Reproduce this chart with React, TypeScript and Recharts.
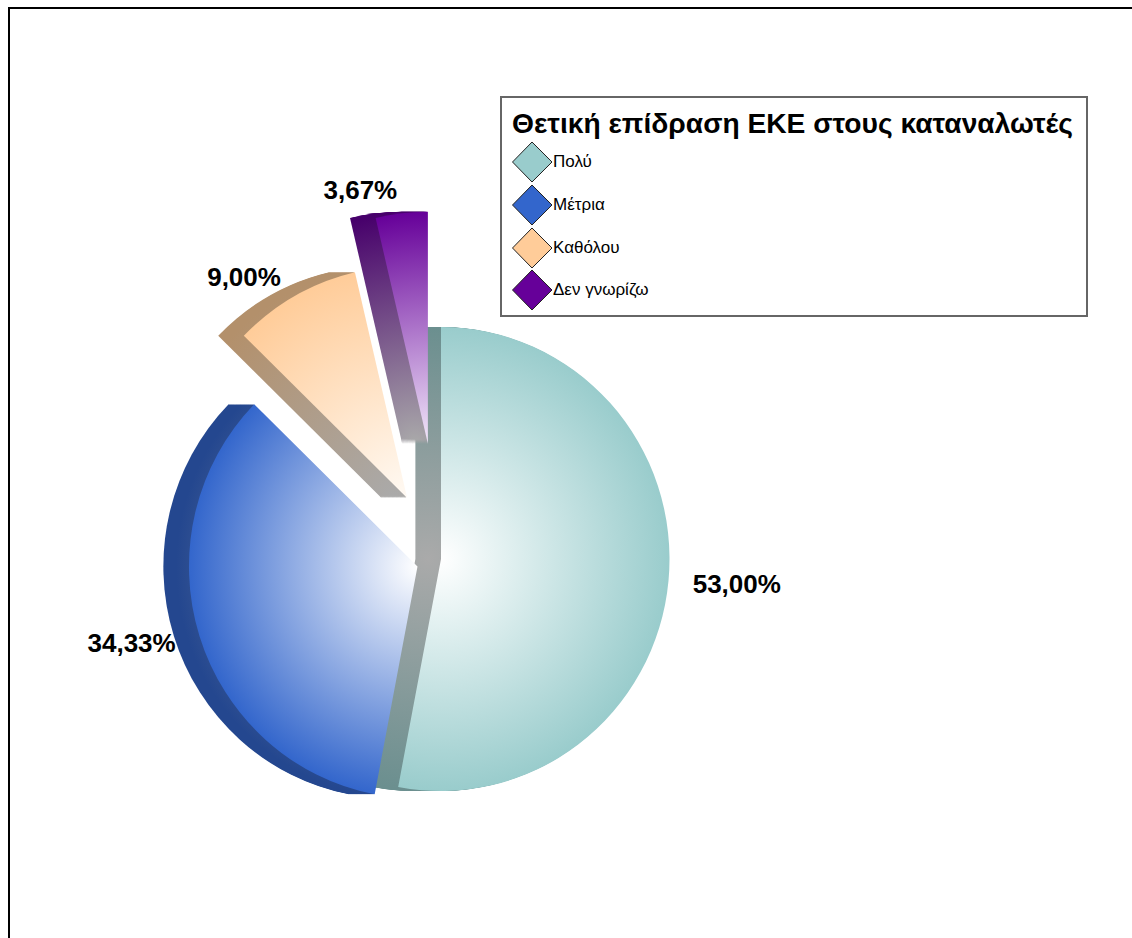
import { Legend, Pie, PieChart, Sector } from "recharts";

const categories = ["Πολύ", "Μέτρια", "Καθόλου", "Δεν γνωρίζω"];
const shares = [53, 34.33, 9, 3.67];
const legendTitle = "Θετική επίδραση ΕΚΕ στους καταναλωτές";

const faceColors = ["#99cccc", "#3366cc", "#ffcc99", "#660099"];
const wallColors = ["#6b8f8f", "#24478f", "#b3906b", "#47006b"];
const centerColors = ["#ffffff", "#ffffff", "#fffaf4", "#f2e8fa"];
const explode = [0, 25, 70, 116];
const labelNudge = [
  [25, -1],
  [-26, -5],
  [-29, 16],
  [-36, 16],
];

const DEPTH = 26;
const SQUEEZE = 0.985;
const RAD = Math.PI / 180;

const pieData = categories.map((name, i) => ({ name, value: shares[i] }));

function apexOf(props: any, i: number) {
  const { cx, cy, midAngle } = props;
  return {
    x: cx + explode[i] * Math.cos(-midAngle * RAD),
    y: cy + explode[i] * Math.sin(-midAngle * RAD),
  };
}

function ExtrudedSlice(props: any) {
  const { cx, index, innerRadius, outerRadius, startAngle, endAngle } = props;
  const { x, y } = apexOf(props, index);
  const steps = Array.from({ length: DEPTH }, (_, k) => DEPTH - k);
  return (
    <g transform={`translate(${cx} 0) scale(${SQUEEZE} 1) translate(${-cx} 0)`}>
      <defs>
        <radialGradient id={`face-${index}`} gradientUnits="userSpaceOnUse" cx={x} cy={y} r={outerRadius}>
          <stop offset="0%" stopColor={centerColors[index]} />
          <stop offset="100%" stopColor={faceColors[index]} />
        </radialGradient>
        <radialGradient id={`wall-${index}`} gradientUnits="userSpaceOnUse" cx={x - DEPTH / 2} cy={y} r={outerRadius}>
          <stop offset="0%" stopColor="#aaaaaa" />
          <stop offset="100%" stopColor={wallColors[index]} />
        </radialGradient>
      </defs>
      {steps.map((d) => (
        <Sector
          key={d}
          cx={x - d}
          cy={y}
          innerRadius={innerRadius}
          outerRadius={outerRadius}
          startAngle={startAngle}
          endAngle={endAngle}
          fill={`url(#wall-${index})`}
        />
      ))}
      <Sector
        cx={x}
        cy={y}
        innerRadius={innerRadius}
        outerRadius={outerRadius}
        startAngle={startAngle}
        endAngle={endAngle}
        fill={`url(#face-${index})`}
      />
    </g>
  );
}

function SliceLabel(props: any) {
  const { index, midAngle, outerRadius, value } = props;
  const { x, y } = apexOf(props, index);
  const r = outerRadius + 40;
  return (
    <text
      x={x + r * Math.cos(-midAngle * RAD) + labelNudge[index][0]}
      y={y + r * Math.sin(-midAngle * RAD) + labelNudge[index][1]}
      textAnchor="middle"
      dominantBaseline="central"
      fontFamily="Liberation Sans"
      fontWeight="bold"
      fontSize={26}
      fill="#000"
    >
      {value.toFixed(2).replace(".", ",") + "%"}
    </text>
  );
}

function LegendBox({ payload }: any) {
  return (
    <div
      style={{
        boxSizing: "border-box",
        width: 588,
        height: 221,
        border: "2px solid #666",
        background: "#fff",
        fontFamily: "Liberation Sans",
        color: "#000",
        paddingLeft: 10,
      }}
    >
      <div style={{ fontWeight: "bold", fontSize: 28.2, lineHeight: "32px", marginTop: 9, marginBottom: 2, whiteSpace: "nowrap" }}>
        {legendTitle}
      </div>
      {(payload || []).map((entry: any) => (
        <div key={entry.value} style={{ display: "flex", alignItems: "center", height: 42.7, fontSize: 17 }}>
          <svg width={41} height={42} style={{ display: "block" }}>
            <polygon
              points="20,1 40,21 20,41 0.5,21"
              fill={faceColors[categories.indexOf(entry.value)]}
              stroke="#222"
              strokeWidth={1}
            />
          </svg>
          <span>{entry.value}</span>
        </div>
      ))}
    </div>
  );
}

export default function App() {
  return (
    <div style={{ position: "absolute", left: 0, top: 0, width: 1132, height: 938, background: "#fff", overflow: "hidden" }}>
      <div
        style={{
          position: "absolute",
          left: 8,
          top: 7,
          width: 1140,
          height: 960,
          borderTop: "2px solid #000",
          borderLeft: "2px solid #000",
        }}
      />
      <PieChart width={1132} height={938} margin={{ top: 0, right: 0, bottom: 0, left: 0 }} style={{ position: "absolute", left: 0, top: 0 }}>
        <Pie
          data={pieData}
          dataKey="value"
          nameKey="name"
          cx={441}
          cy={559}
          outerRadius={232}
          startAngle={90}
          endAngle={-270}
          stroke="none"
          isAnimationActive={false}
          shape={ExtrudedSlice}
          label={SliceLabel}
          labelLine={false}
          fill="#99cccc"
        />
        <Legend
          content={<LegendBox />}
          layout="vertical"
          align="center"
          verticalAlign="middle"
          itemSorter={null}
          wrapperStyle={{ left: 500, top: 96, width: 588 }}
        />
      </PieChart>
    </div>
  );
}
